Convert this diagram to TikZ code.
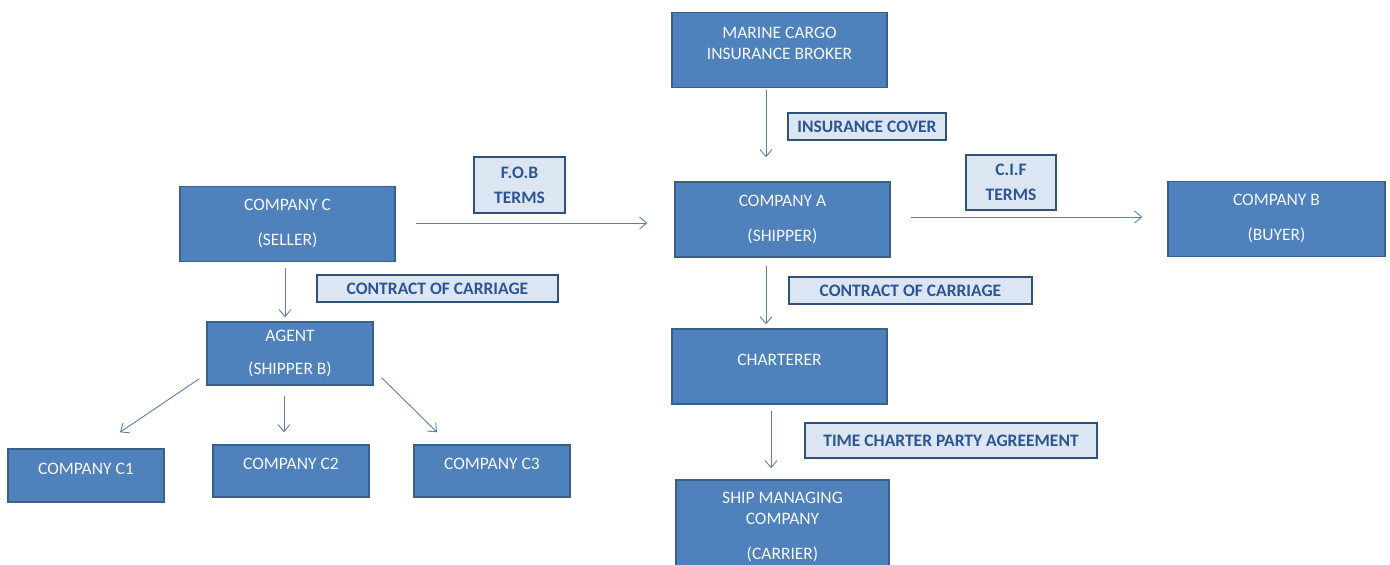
\documentclass[tikz,border=0pt]{standalone}
\usepackage{fontspec}
\setmainfont{Carlito}
\usetikzlibrary{arrows.meta,positioning}
\definecolor{mcblue}{HTML}{4F81BD}
\definecolor{mcedge}{HTML}{3A5F8B}
\definecolor{mclight}{HTML}{DCE6F2}
\definecolor{mcdark}{HTML}{2B5594}
\definecolor{mcarrow}{HTML}{5A7FAE}

\begin{document}
\begin{tikzpicture}[
    x=1pt, y=-1pt,
    box/.style={draw=mcedge, fill=mcblue, line width=1.5pt, text=white!94!mcblue,
                font=\fontsize{17.5}{21}\selectfont, align=center, inner sep=0pt,
                minimum width=215pt, minimum height=75pt},
    small/.style={box, minimum width=156pt, minimum height=52pt},
    tag/.style={draw=mcedge!85!black, fill=mclight, line width=2.2pt, text=mcdark,
                font=\fontsize{17.5}{25}\selectfont\bfseries, align=center, inner sep=0pt,
                minimum height=27pt},
    arr/.style={-{Straight Barb[length=7pt,width=12pt]}, line width=0.9pt, mcarrow},
    lift/.style={text depth=#1},
  ]
  \clip (0,0) rectangle (1390,565);
  \fill[white] (0,0) rectangle (1390,565);

  % main chain
  \node[box, lift=14pt] (broker) at (779.5,50) {MARINE CARGO\\INSURANCE BROKER};
  \node[box] (compA) at (782.5,219.5) {COMPANY A\\[14pt](SHIPPER)};
  \node[box, minimum width=217pt] (compB) at (1276.5,219) {COMPANY B\\[14pt](BUYER)};
  \node[box] (compC) at (287.5,224) {COMPANY C\\[14pt](SELLER)};
  \node[box, lift=14pt] (charterer) at (779.5,366.5) {CHARTERER};
  \node[box, minimum width=213pt, minimum height=94pt] (ship) at (782.5,527)
        {SHIP MANAGING\\COMPANY\\[14pt](CARRIER)};

  % agent side
  \node[box, minimum width=166pt, minimum height=63pt] (agent) at (290,353.5) {AGENT\\[12pt](SHIPPER B)};
  \node[small, minimum height=53pt, lift=14pt] (compC1) at (86,475.5) {COMPANY C1};
  \node[small, lift=14pt] (compC2) at (291,471) {COMPANY C2};
  \node[small, lift=14pt] (compC3) at (492,471) {COMPANY C3};

  % term labels
  \node[tag, minimum width=158pt] (cover) at (867,126.5) {INSURANCE COVER};
  \node[tag, minimum width=91pt, minimum height=56pt] (fob) at (519.5,185) {F.O.B\\TERMS};
  \node[tag, minimum width=90pt, minimum height=55pt] (cif) at (1011,182.5) {C.I.F\\TERMS};
  \node[tag, minimum width=241pt] (carriageC) at (437.5,288.5) {CONTRACT OF CARRIAGE};
  \node[tag, minimum width=243pt] (carriageA) at (910.5,290.5) {CONTRACT OF CARRIAGE};
  \node[tag, minimum width=292pt, minimum height=35pt] (timecharter) at (951,440.5) {TIME CHARTER PARTY AGREEMENT};

  % connectors
  \draw[arr, shorten <=2pt, shorten >=24pt] ([xshift=-13.5pt]broker.south) -- ([xshift=-13.5pt]broker.south |- compA.north);
  \draw[arr, shorten <=20pt, shorten >=27pt] ([yshift=1pt]compC.east) -- ([yshift=1pt]compC.east -| compA.west);
  \draw[arr, shorten <=20pt, shorten >=25pt] ([yshift=2.5pt]compA.east) -- ([yshift=2.5pt]compA.east -| compB.west);
  \draw[arr, shorten <=6pt, shorten >=4pt] ([xshift=-2.5pt]compC.south) -- ([xshift=-2.5pt]compC.south |- agent.north);
  \draw[arr, shorten <=8pt, shorten >=4pt] ([xshift=-16.5pt]compA.south) -- ([xshift=-16.5pt]compA.south |- charterer.north);
  \draw[arr, shorten <=6pt, shorten >=11pt] ([xshift=-8.5pt]charterer.south) -- ([xshift=-8.5pt]charterer.south |- ship.north);
  \draw[arr] ([xshift=-7pt,yshift=7pt]agent.south west) -- ([xshift=34pt,yshift=16pt]compC1.north);
  \draw[arr] ([xshift=-6pt,yshift=-10pt]agent.south) -- ([xshift=-7pt,yshift=12pt]compC2.north);
  \draw[arr] ([xshift=8pt,yshift=8pt]agent.south east) -- ([xshift=-55pt,yshift=12pt]compC3.north);
\end{tikzpicture}
\end{document}
